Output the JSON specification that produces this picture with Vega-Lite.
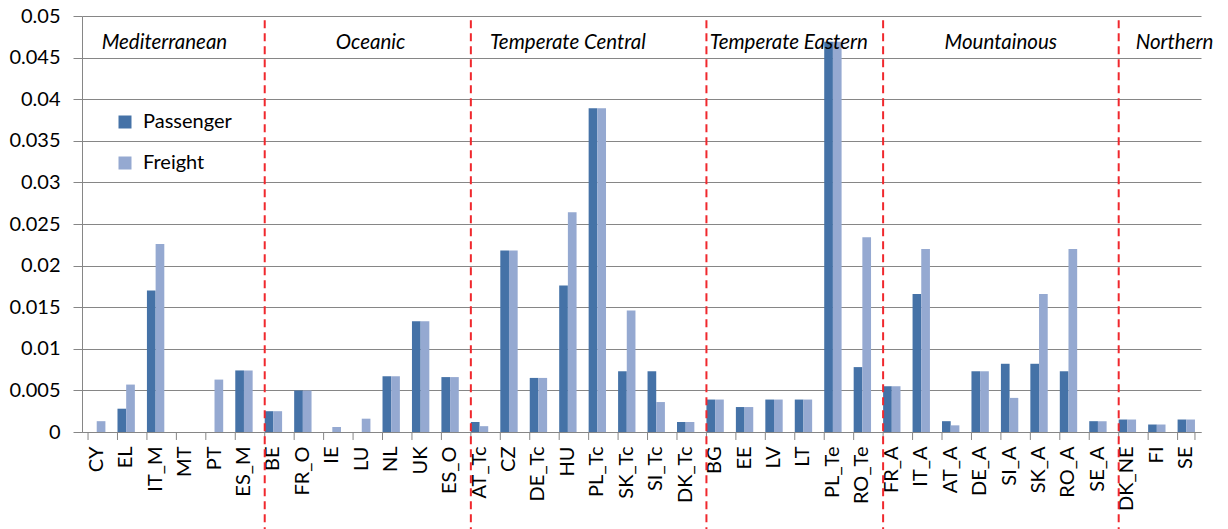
{
  "$schema": "https://vega.github.io/schema/vega-lite/v6.json",
  "width": 1119,
  "height": 416,
  "autosize": {"type": "none"},
  "padding": {"left": 82, "top": 16, "right": 27, "bottom": 97},
  "background": "white",
  "config": {"view": {"stroke": null}, "font": "Lato"},
  "datasets": {
    "bars": [
      {"country": "CY", "series": "Passenger", "value": 0}, {"country": "CY", "series": "Freight", "value": 0.0013},
      {"country": "EL", "series": "Passenger", "value": 0.0028}, {"country": "EL", "series": "Freight", "value": 0.0057},
      {"country": "IT_M", "series": "Passenger", "value": 0.017}, {"country": "IT_M", "series": "Freight", "value": 0.0226},
      {"country": "MT", "series": "Passenger", "value": 0}, {"country": "MT", "series": "Freight", "value": 0},
      {"country": "PT", "series": "Passenger", "value": 0}, {"country": "PT", "series": "Freight", "value": 0.0063},
      {"country": "ES_M", "series": "Passenger", "value": 0.0074}, {"country": "ES_M", "series": "Freight", "value": 0.0074},
      {"country": "BE", "series": "Passenger", "value": 0.0025}, {"country": "BE", "series": "Freight", "value": 0.0025},
      {"country": "FR_O", "series": "Passenger", "value": 0.005}, {"country": "FR_O", "series": "Freight", "value": 0.005},
      {"country": "IE", "series": "Passenger", "value": 0}, {"country": "IE", "series": "Freight", "value": 0.0006},
      {"country": "LU", "series": "Passenger", "value": 0}, {"country": "LU", "series": "Freight", "value": 0.0016},
      {"country": "NL", "series": "Passenger", "value": 0.0067}, {"country": "NL", "series": "Freight", "value": 0.0067},
      {"country": "UK", "series": "Passenger", "value": 0.0133}, {"country": "UK", "series": "Freight", "value": 0.0133},
      {"country": "ES_O", "series": "Passenger", "value": 0.0066}, {"country": "ES_O", "series": "Freight", "value": 0.0066},
      {"country": "AT_Tc", "series": "Passenger", "value": 0.0012}, {"country": "AT_Tc", "series": "Freight", "value": 0.0007},
      {"country": "CZ", "series": "Passenger", "value": 0.0218}, {"country": "CZ", "series": "Freight", "value": 0.0218},
      {"country": "DE_Tc", "series": "Passenger", "value": 0.0065}, {"country": "DE_Tc", "series": "Freight", "value": 0.0065},
      {"country": "HU", "series": "Passenger", "value": 0.0176}, {"country": "HU", "series": "Freight", "value": 0.0264},
      {"country": "PL_Tc", "series": "Passenger", "value": 0.0389}, {"country": "PL_Tc", "series": "Freight", "value": 0.0389},
      {"country": "SK_Tc", "series": "Passenger", "value": 0.0073}, {"country": "SK_Tc", "series": "Freight", "value": 0.0146},
      {"country": "SI_Tc", "series": "Passenger", "value": 0.0073}, {"country": "SI_Tc", "series": "Freight", "value": 0.0036},
      {"country": "DK_Tc", "series": "Passenger", "value": 0.0012}, {"country": "DK_Tc", "series": "Freight", "value": 0.0012},
      {"country": "BG", "series": "Passenger", "value": 0.0039}, {"country": "BG", "series": "Freight", "value": 0.0039},
      {"country": "EE", "series": "Passenger", "value": 0.003}, {"country": "EE", "series": "Freight", "value": 0.003},
      {"country": "LV", "series": "Passenger", "value": 0.0039}, {"country": "LV", "series": "Freight", "value": 0.0039},
      {"country": "LT", "series": "Passenger", "value": 0.0039}, {"country": "LT", "series": "Freight", "value": 0.0039},
      {"country": "PL_Te", "series": "Passenger", "value": 0.0469}, {"country": "PL_Te", "series": "Freight", "value": 0.0469},
      {"country": "RO_Te", "series": "Passenger", "value": 0.0078}, {"country": "RO_Te", "series": "Freight", "value": 0.0234},
      {"country": "FR_A", "series": "Passenger", "value": 0.0055}, {"country": "FR_A", "series": "Freight", "value": 0.0055},
      {"country": "IT_A", "series": "Passenger", "value": 0.0166}, {"country": "IT_A", "series": "Freight", "value": 0.022},
      {"country": "AT_A", "series": "Passenger", "value": 0.0013}, {"country": "AT_A", "series": "Freight", "value": 0.0008},
      {"country": "DE_A", "series": "Passenger", "value": 0.0073}, {"country": "DE_A", "series": "Freight", "value": 0.0073},
      {"country": "SI_A", "series": "Passenger", "value": 0.0082}, {"country": "SI_A", "series": "Freight", "value": 0.0041},
      {"country": "SK_A", "series": "Passenger", "value": 0.0082}, {"country": "SK_A", "series": "Freight", "value": 0.0166},
      {"country": "RO_A", "series": "Passenger", "value": 0.0073}, {"country": "RO_A", "series": "Freight", "value": 0.022},
      {"country": "SE_A", "series": "Passenger", "value": 0.0013}, {"country": "SE_A", "series": "Freight", "value": 0.0013},
      {"country": "DK_NE", "series": "Passenger", "value": 0.0015}, {"country": "DK_NE", "series": "Freight", "value": 0.0015},
      {"country": "FI", "series": "Passenger", "value": 0.0009}, {"country": "FI", "series": "Freight", "value": 0.0009},
      {"country": "SE", "series": "Passenger", "value": 0.0015}, {"country": "SE", "series": "Freight", "value": 0.0015}
    ],
    "groups": [
      {"group": "Mediterranean", "first": "CY", "pos": 2.8},
      {"group": "Oceanic", "first": "BE", "pos": 9.8},
      {"group": "Temperate Central", "first": "AT_Tc", "pos": 16.5},
      {"group": "Temperate Eastern", "first": "BG", "pos": 24.0},
      {"group": "Mountainous", "first": "FR_A", "pos": 31.2},
      {"group": "Northern", "first": "DK_NE", "pos": 37.1}
    ]
  },
  "layer": [
    {
      "layer": [
        {
          "data": {"name": "bars"},
          "mark": {"type": "bar"},
          "encoding": {
            "x": {
              "field": "country",
              "type": "nominal",
              "sort": null,
              "scale": {
                "domain": ["CY","EL","IT_M","MT","PT","ES_M","BE","FR_O","IE","LU","NL","UK","ES_O","AT_Tc","CZ","DE_Tc","HU","PL_Tc","SK_Tc","SI_Tc","DK_Tc","BG","EE","LV","LT","PL_Te","RO_Te","FR_A","IT_A","AT_A","DE_A","SI_A","SK_A","RO_A","SE_A","DK_NE","FI","SE"],
                "paddingInner": 0.41,
                "paddingOuter": 0.205
              },
              "axis": {
                "title": null,
                "labelAngle": -90,
                "labelFontSize": 20,
                "labelPadding": 14,
                "labelColor": "#000000",
                "ticks": false,
                "grid": false,
                "domainColor": "#868686",
                "domainWidth": 1
              }
            },
            "xOffset": {
              "field": "series",
              "type": "nominal",
              "scale": {"domain": ["Passenger", "Freight"], "paddingInner": 0, "paddingOuter": 0}
            },
            "y": {
              "field": "value",
              "type": "quantitative",
              "scale": {"domain": [0, 0.05], "nice": false},
              "axis": {
                "title": null,
                "values": [0, 0.005, 0.01, 0.015, 0.02, 0.025, 0.03, 0.035, 0.04, 0.045, 0.05],
                "format": "~g",
                "grid": true,
                "gridColor": "#868686",
                "gridWidth": 1,
                "domainColor": "#868686",
                "tickColor": "#868686",
                "tickSize": 9,
                "labelFontSize": 20,
                "labelPadding": 13,
                "labelColor": "#000000"
              }
            },
            "color": {
              "field": "series",
              "type": "nominal",
              "scale": {"domain": ["Passenger", "Freight"], "range": ["#4572A7", "#95A9D1"]},
              "legend": {
                "orient": "none",
                "legendX": 33,
                "legendY": 96,
                "title": null,
                "symbolType": "square",
                "symbolSize": 169,
                "symbolStrokeWidth": 0,
                "labelFontSize": 20,
                "labelColor": "#000000",
                "labelOffset": 8,
                "rowPadding": 21,
                "padding": 0
              }
            }
          }
        },
        {
          "data": {"name": "bars"},
          "transform": [{"filter": "datum.series === 'Passenger'"}],
          "mark": {"type": "rule", "color": "#868686", "strokeWidth": 1},
          "encoding": {
            "x": {"field": "country", "type": "nominal", "bandPosition": 0},
            "y": {"datum": 0},
            "y2": {"datum": -0.00096}
          }
        },
        {
          "data": {"values": [{"country": "SE"}]},
          "mark": {"type": "rule", "color": "#868686", "strokeWidth": 1},
          "encoding": {
            "x": {"field": "country", "type": "nominal", "bandPosition": 1},
            "y": {"datum": 0},
            "y2": {"datum": -0.00096}
          }
        },
        {
          "data": {"name": "groups"},
          "transform": [{"filter": "datum.first !== 'CY'"}],
          "mark": {"type": "rule", "color": "#F0282D", "strokeWidth": 2, "strokeDash": [8, 5]},
          "encoding": {
            "x": {"field": "first", "type": "nominal", "bandPosition": 0},
            "y": {"datum": 0.0495},
            "y2": {"datum": -0.012}
          }
        }
      ]
    },
    {
      "data": {"name": "groups"},
      "mark": {"type": "text", "fontStyle": "italic", "fontSize": 20.5, "color": "#000000", "baseline": "middle", "align": "center"},
      "encoding": {
        "x": {"field": "pos", "type": "quantitative", "scale": {"domain": [0, 38], "nice": false, "zero": false}, "axis": null},
        "y": {"datum": 0.0468},
        "text": {"field": "group"}
      }
    }
  ],
  "resolve": {"scale": {"x": "independent"}}
}
